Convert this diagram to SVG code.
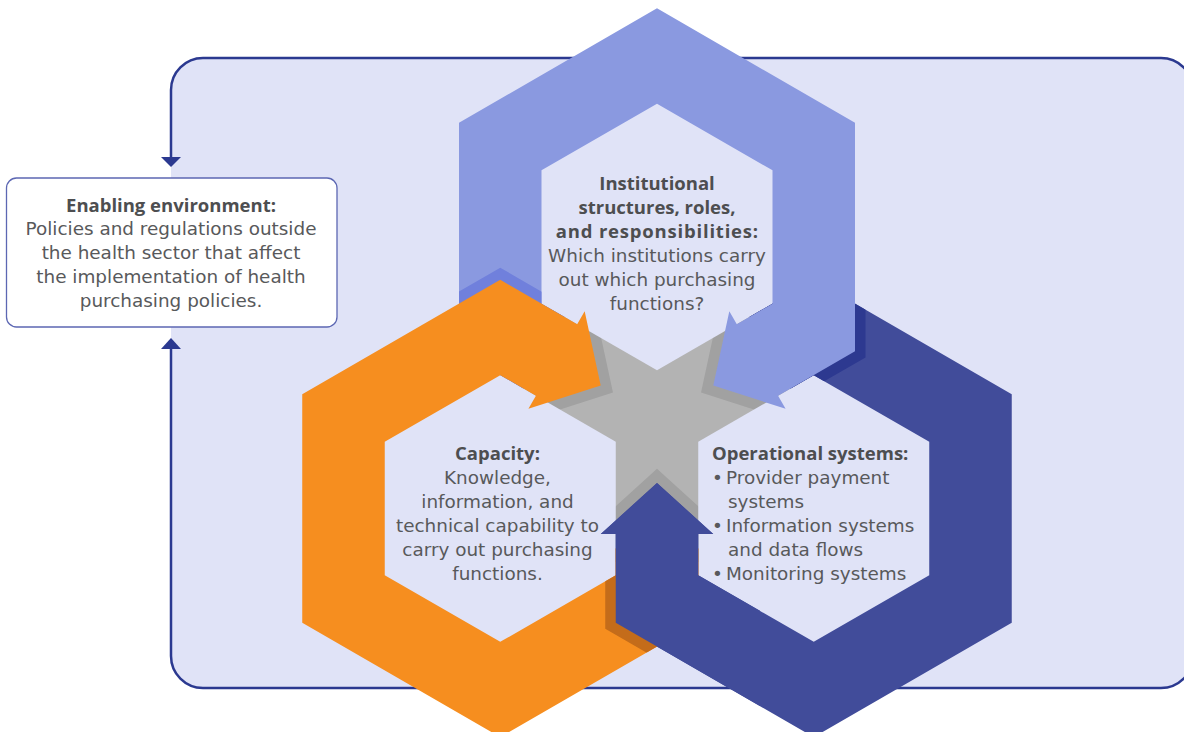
<svg xmlns="http://www.w3.org/2000/svg" width="1184" height="732" viewBox="0 0 1184 732">
<style>
.t{font-family:"DejaVu Sans",Verdana,sans-serif;font-size:18.4px;fill:#58595b}
.b{font-family:"Open Sans","DejaVu Sans",sans-serif;font-size:18.5px;font-weight:700;fill:#4d4e50}
.c{text-anchor:middle}
.hole{fill:#e0e3f7}
.halo{stroke-width:21;stroke-linejoin:miter;stroke-miterlimit:3}
</style>
<defs>
<path id="ring" d="M523.36,388.47 L459,351.32 L459,122.68 L657,8.37 L855,122.68 L855,351.32 L778.08,395.72 L785.58,408.71 L713.29,385.5 L729.33,311.29 L736.83,324.28 L772.5,303.69 L772.5,170.31 L657,103.63 L541.5,170.31 L541.5,303.69 L564.61,317.03 Z"/>
<polygon id="hole" points="657,103.63 772.5,170.31 772.5,303.69 657,370.37 541.5,303.69 541.5,170.31"/>
<clipPath id="clipStar"><circle cx="657" cy="418" r="150"/></clipPath>
<clipPath id="clipTop"><use href="#ring"/></clipPath>
<clipPath id="clipDark"><use href="#ring" transform="rotate(120 657 418)"/></clipPath>
<clipPath id="clipOrange"><use href="#ring" transform="rotate(240 657 418)"/></clipPath>
<clipPath id="clipFront"><rect x="560" y="430" width="200" height="310"/></clipPath>
</defs>

<g id="frame">
<rect x="171" y="58" width="1022" height="630" rx="32" fill="#e0e3f7"/>
</g>

<g id="connectors">
<path d="M171,158 V90 A32,32 0 0 1 203,58 H1161 A32,32 0 0 1 1193,90 V656 A32,32 0 0 1 1161,688 H203 A32,32 0 0 1 171,656 V347" fill="none" stroke="#2b3990" stroke-width="2.5"/>
<polygon points="161,157 181,157 171,167" fill="#2b3990"/>
<polygon points="161,349 181,349 171,338" fill="#2b3990"/>
</g>

<g id="node-enabling">
<rect x="6.5" y="178" width="330.5" height="149" rx="10" fill="#ffffff" stroke="#5c67b3" stroke-width="1.3"/>
<text class="b c" x="171" y="211.5">Enabling environment:</text>
<text class="t c" x="171" y="235.3">Policies and regulations outside</text>
<text class="t c" x="171" y="259">the health sector that affect</text>
<text class="t c" x="171" y="282.8">the implementation of health</text>
<text class="t c" x="171" y="306.5">purchasing policies.</text>
</g>

<g id="center-star">
<circle cx="657" cy="418" r="150" fill="#b3b3b3"/>
<g clip-path="url(#clipStar)" fill="#a1a1a1" stroke="#a1a1a1" class="halo">
<use href="#ring"/>
<use href="#ring" transform="rotate(120 657 418)"/>
<use href="#ring" transform="rotate(240 657 418)"/>
</g>
</g>

<g id="hexagon-holes" class="hole">
<use href="#hole"/>
<use href="#hole" transform="rotate(120 657 418)"/>
<use href="#hole" transform="rotate(240 657 418)"/>
</g>

<g id="node-operational-ring">
<use href="#ring" transform="rotate(120 657 418)" fill="#414c9a"/>
</g>
<g id="shade-on-operational" clip-path="url(#clipDark)">
<use href="#ring" class="halo" fill="#2d3990" stroke="#2d3990"/>
</g>
<g id="node-institutional-ring">
<use href="#ring" fill="#8a99e0"/>
</g>
<g id="shade-on-institutional" clip-path="url(#clipTop)">
<use href="#ring" transform="rotate(240 657 418)" class="halo" fill="#7080dc" stroke="#7080dc"/>
</g>
<g id="node-capacity-ring">
<use href="#ring" transform="rotate(240 657 418)" fill="#f68e1f"/>
</g>
<g id="shade-on-capacity" clip-path="url(#clipOrange)">
<use href="#ring" transform="rotate(120 657 418)" class="halo" fill="#c46c1a" stroke="#c46c1a"/>
</g>
<g id="operational-front" clip-path="url(#clipFront)">
<use href="#ring" transform="rotate(120 657 418)" fill="#414c9a"/>
</g>

<g id="node-institutional">
<text class="b c" x="657" y="190">Institutional</text>
<text class="b c" x="657" y="214">structures, roles,</text>
<text class="b c" x="657.4" y="238" letter-spacing="0.8">and responsibilities:</text>
<text class="t c" x="657" y="262">Which institutions carry</text>
<text class="t c" x="657" y="286">out which purchasing</text>
<text class="t c" x="657" y="310">functions?</text>
</g>

<g id="node-capacity">
<text class="b c" x="497.5" y="460">Capacity:</text>
<text class="t c" x="497.5" y="484">Knowledge,</text>
<text class="t c" x="497.5" y="508">information, and</text>
<text class="t c" x="497.5" y="532">technical capability to</text>
<text class="t c" x="497.5" y="556">carry out purchasing</text>
<text class="t c" x="497.5" y="580">functions.</text>
</g>

<g id="node-operational">
<text class="b" x="712" y="460">Operational systems:</text>
<text class="t" x="712" y="484">•<tspan x="726">Provider payment</tspan></text>
<text class="t" x="728" y="508">systems</text>
<text class="t" x="712" y="532">•<tspan x="726">Information systems</tspan></text>
<text class="t" x="728" y="556">and data flows</text>
<text class="t" x="712" y="580">•<tspan x="726">Monitoring systems</tspan></text>
</g>
</svg>
